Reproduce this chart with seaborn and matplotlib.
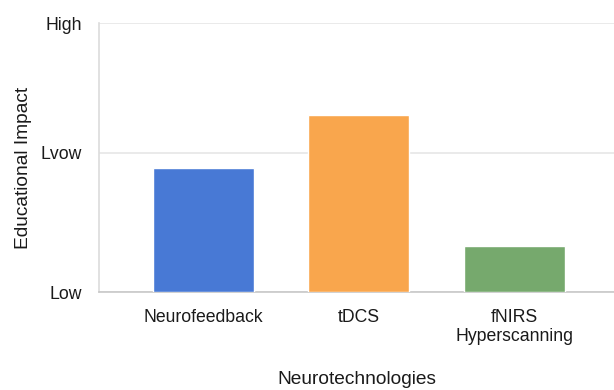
import matplotlib
matplotlib.use("Agg")
import matplotlib.pyplot as plt
import seaborn as sns
import pandas as pd

technologies = ["Neurofeedback", "tDCS", "fNIRS\nHyperscanning"]
impact = [0.92, 1.32, 0.34]
bar_colors = ["#4879D5", "#F9A64D", "#76A96D"]
level_values = [0, 1.035, 2]
level_labels = ["Low", "Lvow", "High"]

sns.set_theme(style="white")
plt.rcParams["font.family"] = ["Liberation Sans", "DejaVu Sans"]

df = pd.DataFrame({"Neurotechnologies": technologies, "Educational Impact": impact})

fig = plt.figure(figsize=(6.14, 3.9), dpi=100)
ax = fig.add_axes([0.161, 0.251, 0.839, 0.690])

sns.barplot(data=df, x="Neurotechnologies", y="Educational Impact",
            hue="Neurotechnologies", palette=bar_colors, legend=False,
            width=0.65, saturation=1, ax=ax, zorder=3)

ax.set_ylim(0, 2)
ax.set_xlim(-0.67, 2.64)
ax.set_yticks(level_values)
ax.set_yticklabels(level_labels)
ax.yaxis.grid(True, color="#e6e6e6", linewidth=1.2, zorder=0)
ax.set_axisbelow(True)

for side in ["top", "right"]:
    ax.spines[side].set_visible(False)
ax.spines["left"].set_color("#dcdcdc")
ax.spines["left"].set_linewidth(1.2)
ax.spines["bottom"].set_color("#c8c8c8")
ax.spines["bottom"].set_linewidth(1.2)

ax.tick_params(axis="both", length=0, labelsize=12.7, colors="#1a1a1a")
ax.tick_params(axis="x", pad=12)
ax.tick_params(axis="y", pad=12)
ax.set_xlabel("Neurotechnologies", fontsize=13.8, color="#1a1a1a")
ax.set_ylabel("Educational Impact", fontsize=13.8, color="#1a1a1a")
ax.xaxis.set_label_coords(0.5, -0.295)
ax.yaxis.set_label_coords(-0.13, 0.46)

fig.savefig("out.png", dpi=100)
